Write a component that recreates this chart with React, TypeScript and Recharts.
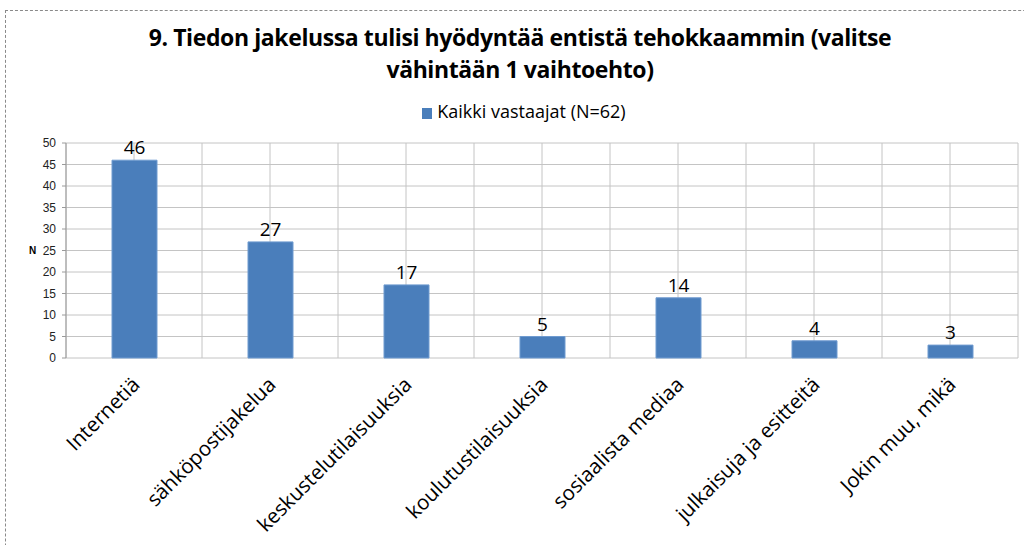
import React from 'react';
import { BarChart, Bar, XAxis, YAxis, CartesianGrid, LabelList } from 'recharts';

const categories = [
  'Internetiä',
  'sähköpostijakelua',
  'keskustelutilaisuuksia',
  'koulutustilaisuuksia',
  'sosiaalista mediaa',
  'julkaisuja ja esitteitä',
  'Jokin muu, mikä',
];
const values = [46, 27, 17, 5, 14, 4, 3];
const yTicks = [0, 5, 10, 15, 20, 25, 30, 35, 40, 45, 50];
const seriesName = 'Kaikki vastaajat (N=62)';
const titleLines = ['9. Tiedon jakelussa tulisi hyödyntää entistä tehokkaammin (valitse', 'vähintään 1 vaihtoehto)'];

const data = categories.map((c, i) => ({ name: c, value: values[i] }));
const halfSteps = Array.from({ length: categories.length * 2 + 1 }, (_, i) => i / 2);
const fullTicks = Array.from({ length: categories.length + 1 }, (_, i) => i);

const BAR = '#4a7ebb';
const GRID = '#c4c4c4';
const AXIS = '#9a9a9a';
const FONT = 'Open Sans, Noto Sans, sans-serif';

const CatTick = (props: any) => {
  const { x, y, payload } = props;
  const ax = x + 7;
  const ay = y + 20;
  return (
    <text
      x={ax}
      y={ay}
      transform={`rotate(-45, ${ax}, ${ay})`}
      textAnchor="end"
      fontFamily={FONT}
      fontSize={20.5}
      fill="#000"
    >
      {payload.value}
    </text>
  );
};

const MarkTick = (props: any) => {
  const { x, y } = props;
  return <line x1={x} x2={x} y1={y} y2={y + 6} stroke={AXIS} strokeWidth={1} />;
};

const gridX = ({ offset }: any) => halfSteps.map((s) => offset.left + (s / categories.length) * offset.width);

export default function App() {
  return (
    <div style={{ position: 'absolute', left: 0, top: 0, width: 1024, height: 545, overflow: 'hidden', background: '#fff' }}>
      <div
        style={{
          position: 'absolute',
          left: 5,
          top: 10,
          width: 1100,
          height: 700,
          borderTop: '1px dashed #8a8a8a',
          borderLeft: '1px dashed #8a8a8a',
        }}
      />
      <div
        style={{
          position: 'absolute',
          left: 0,
          top: 21,
          width: 1040,
          textAlign: 'center',
          fontFamily: FONT,
          fontWeight: 700,
          fontSize: 23,
          lineHeight: '32px',
          color: '#000',
          letterSpacing: -0.4,
        }}
      >
        {titleLines.map((t) => (
          <div key={t}>{t}</div>
        ))}
      </div>
      <div
        style={{
          position: 'absolute',
          left: 0,
          top: 99,
          width: 1048,
          textAlign: 'center',
          fontFamily: FONT,
          fontSize: 18,
          color: '#000',
        }}
      >
        <span style={{ display: 'inline-block', width: 10, height: 11, background: BAR, marginRight: 5, verticalAlign: -1 }} />
        {seriesName}
      </div>
      <div style={{ position: 'absolute', left: 0, top: 0 }}>
        <BarChart
          width={1024}
          height={545}
          data={data}
          margin={{ top: 143, right: 6, bottom: 7, left: 0 }}
        >
          <XAxis
            xAxisId="ticks"
            type="number"
            domain={[0, fullTicks.length - 1]}
            ticks={fullTicks}
            interval={0}
            tick={<MarkTick />}
            tickLine={false}
            tickSize={0}
            tickMargin={0}
            height={0}
            stroke={AXIS}
            allowDataOverflow
          />
          <XAxis
            dataKey="name"
            xAxisId="cat"
            height={180}
            axisLine={false}
            tickLine={false}
            interval={0}
            tick={<CatTick />}
          />
          <YAxis
            domain={[0, 50]}
            ticks={yTicks}
            width={66}
            tickSize={4}
            tickMargin={6}
            stroke={AXIS}
            tick={{ fill: '#222', fontSize: 12, fontFamily: 'Liberation Sans, Arial, sans-serif' }}
            interval={0}
            label={{ value: 'N', position: 'insideLeft', offset: 29, fontSize: 10, fontWeight: 700, fill: '#000', fontFamily: 'Liberation Sans, Arial, sans-serif' }}
          />
          <CartesianGrid stroke={GRID} verticalCoordinatesGenerator={gridX} />
          <Bar
            dataKey="value"
            xAxisId="cat"
            fill={BAR}
            stroke="#6f9bd0"
            strokeWidth={1}
            barSize={45}
            isAnimationActive={false}
          >
            <LabelList dataKey="value" position="top" offset={6} fill="#000" fontSize={19} fontFamily={FONT} />
          </Bar>
        </BarChart>
      </div>
    </div>
  );
}
